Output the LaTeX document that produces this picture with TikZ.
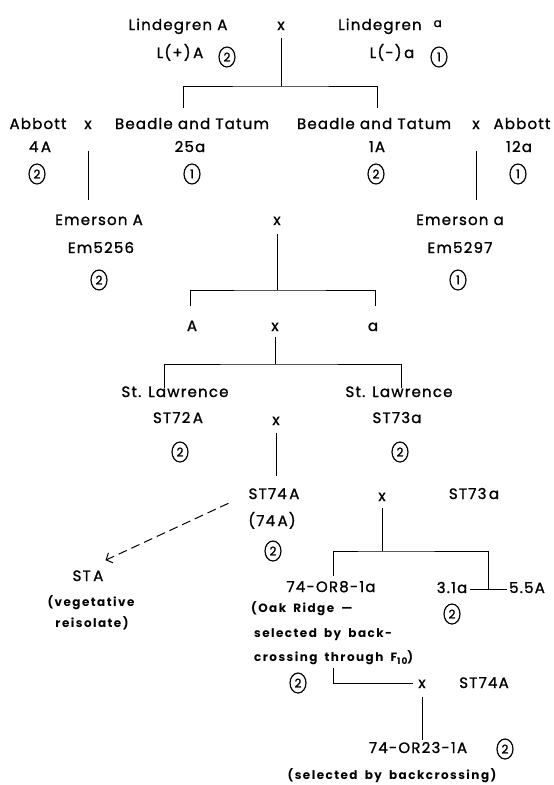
\documentclass[tikz,border=0pt]{standalone}
\usepackage{fontspec}
\setmainfont{Poppins}
\newfontfamily\lblfont{Poppins}[LetterSpace=8,FakeBold=1.2]
\newfontfamily\smfont{Poppins}[LetterSpace=12,WordSpace=1.8]
\newfontfamily\numfont{Poppins}[FakeBold=1.5]
\usetikzlibrary{shapes.geometric,arrows.meta}
\begin{document}
\begin{tikzpicture}[x=1pt,y=-1pt,
  lab/.style={inner sep=0pt, anchor=base, font=\lblfont\fontsize{15}{17}\selectfont},
  sm/.style={inner sep=0pt, anchor=base, font=\smfont\bfseries\fontsize{12}{14}\selectfont},
  num/.style={draw, ellipse, line width=1.2pt, minimum width=16pt, minimum height=20pt, inner sep=0pt, font=\numfont\fontsize{12}{13}\selectfont},
  ln/.style={line width=0.9pt},
  dsh/.style={line width=1pt, dash pattern=on 9pt off 5pt, -{Straight Barb[length=5pt,width=11pt,line width=1pt]}},
]
\useasboundingbox (0,0) rectangle (554,785);
% row 1
\node[lab] (lA) at (178,30) {Lindegren A};
\node[lab] (x1) at (281,30) {x};
\node[lab] (la) at (390,30) {Lindegren\hspace{12pt}\raisebox{3pt}{\fontsize{12}{13}\selectfont a}};
\node[lab] (lpA) at (180,58) {L(+)\,A};
\node[num] (c1) at (227,57) {2};
\node[lab] (lma) at (392,58) {L(-)\,a};
\node[num] (c2) at (439,57) {1};
\coordinate (j1) at (281,86);
\coordinate (e1L) at (183,108);
\coordinate (e1R) at (377,108);
\draw[ln, shorten <=8pt] (x1.south) -- (j1);
\draw[ln] (e1L) |- (j1) -| (e1R);
% row 3
\node[lab] (ab1) at (38,129) {Abbott};
\node[lab] (x2) at (88,129) {x};
\node[lab] (bt1) at (192,129) {Beadle and Tatum};
\node[lab] (bt2) at (374,129) {Beadle and Tatum};
\node[lab] (x3) at (476,129) {x};
\node[lab] (ab2) at (522,129) {Abbott};
\node[lab] (n4A) at (40,152) {4\,A};
\node[lab] (n25a) at (190,152) {25a};
\node[lab] (n1A) at (377,152) {1A};
\node[lab] (n12a) at (519,152) {12a};
\node[num] (c3) at (37,174) {2};
\node[num] (c4) at (192,174) {1};
\node[num] (c5) at (376,174) {2};
\node[num] (c6) at (518,174) {1};
\coordinate (v2) at (88,200);
\coordinate (v3) at (476,200);
\draw[ln, shorten <=22pt] (x2.south) -- (v2);
\draw[ln, shorten <=22pt] (x3.south) -- (v3);
% Emerson
\node[lab] (em1) at (99,225) {Emerson A};
\node[lab] (x4) at (277,225) {x};
\node[lab] (em2) at (460,225) {Emerson a};
\node[lab] (em1n) at (101,253) {Em5256};
\node[lab] (em2n) at (460,253) {Em5297};
\node[num] (c7) at (99,280) {2};
\node[num] (c8) at (458,280) {1};
\coordinate (j4) at (277,290);
\coordinate (e4L) at (190,306);
\coordinate (e4R) at (375,306);
\draw[ln, shorten <=9pt] (x4.south) -- (j4);
\draw[ln] (e4L) |- (j4) -| (e4R);
% A x a
\node[lab] (gA) at (192,331) {A};
\node[lab] (x5) at (275,331) {x};
\node[lab] (ga) at (373,331) {a};
\coordinate (j5) at (275,364);
\coordinate (e5L) at (164,388);
\coordinate (e5R) at (401,388);
\draw[ln, shorten <=6pt] (x5.south) -- (j5);
\draw[ln] (e5L) |- (j5) -| (e5R);
% St Lawrence
\node[lab] (sl1) at (175,397) {St. Lawrence};
\node[lab] (sl2) at (399,397) {St. Lawrence};
\node[lab] (st72) at (178,423) {ST72\,A};
\node[lab] (x6) at (276,425) {x};
\node[lab] (st73) at (397,423) {ST73a};
\node[num] (c9) at (180,452) {2};
\node[num] (c10) at (400,452) {2};
% ST74
\node[lab] (st74) at (274,499) {ST74\,A};
\node[lab] (x7) at (382,501) {x};
\node[lab] (st73b) at (474,499) {ST73\,a};
\node[lab] (p74) at (272,526) {(74\,A)};
\node[num] (c11) at (273,551) {2};
\coordinate (v6) at (276,476);
\draw[ln, shorten <=8pt] (x6.south) -- (v6);
% STA
\node[lab] (sta) at (88,581) {ST\,A};
\node[sm] (veg) at (91,606) {(vegetative};
\node[sm] (reis) at (92,627) {reisolate)};
\draw[dsh] ([shift={(-20,4)}]st74.south west) -- ([shift={(2,-10)}]sta.north east);
% backcross
\coordinate (j7) at (382,551);
\coordinate (e7L) at (333,576);
\coordinate (t7) at (488,589);
\draw[ln, shorten <=7pt] (x7.south) -- (j7);
\draw[ln] (e7L) |- (j7) -| (t7);
\node[lab] (or8) at (331,592) {74-OR8-1a};
\node[lab] (s31) at (452,593) {3.1a};
\node[lab] (s55) at (527,593) {5.5A};
\draw[ln] ([xshift=3pt]s31.east |- t7) -- ([xshift=-2pt]s55.west |- t7);
\node[num] (c12) at (452,614) {2};
\node[sm, anchor=base west] (oak) at (251,612) {(Oak Ridge —};
\node[sm, anchor=base west] (selb) at (254,637) {selected by back-};
\node[sm, anchor=base west] (cross) at (254,661) {crossing through F\raisebox{-3pt}{\fontsize{9}{10}\selectfont 10})};
\node[num] (c13) at (298,683) {2};
\node[lab] (x8) at (422,688) {x};
\node[lab] (st74b) at (484,688) {ST74A};
\coordinate (lk) at (333,668);
\draw[ln] (lk) |- ([xshift=-5pt]x8.west);
\coordinate (v8) at (422,740);
\draw[ln, shorten <=9pt] (x8.south) -- (v8);
\node[lab] (or23) at (418,753) {74-OR23-1A};
\node[num] (c14) at (505,749) {2};
\node[sm] (selbc) at (392,779) {(selected by backcrossing)};
\end{tikzpicture}
\end{document}
